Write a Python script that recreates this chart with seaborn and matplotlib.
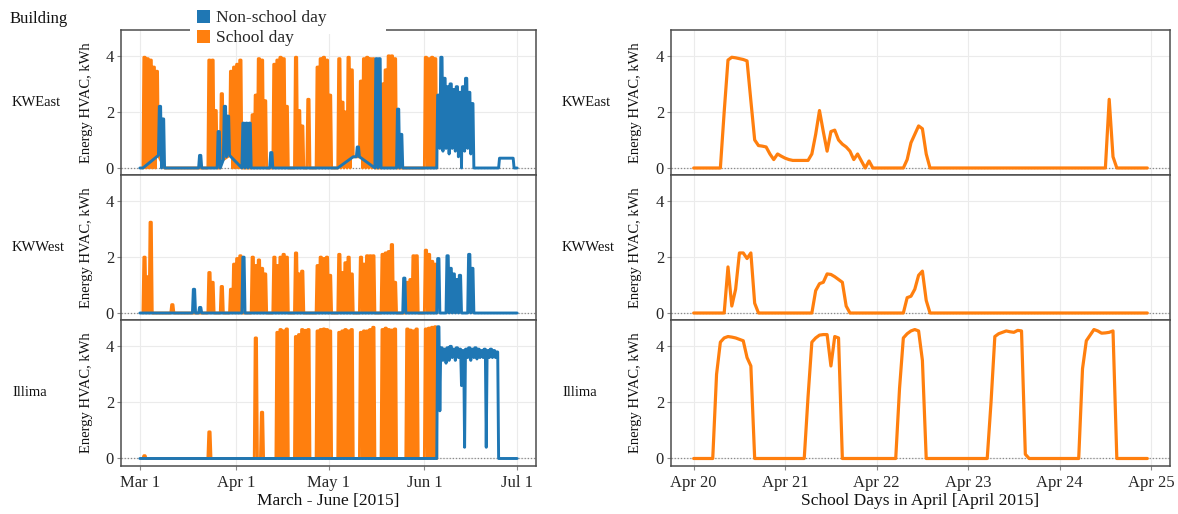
import pandas as pd
import matplotlib
matplotlib.use('Agg')
import matplotlib.pyplot as plt
import matplotlib.dates as mdates
from matplotlib.patches import Patch, Rectangle
from matplotlib.ticker import FuncFormatter
import seaborn as sns

BUILDINGS = ['KWEast', 'KWWest', 'Illima']
COLORS = {'Non-school day': '#1f77b4', 'School day': '#ff7f0e'}

# ---------------- left: March - June 2015, daily peak HVAC energy (kWh)
# one row per week, Sunday..Saturday
period_start = '2015-03-01'
kwe_peak = [
    0.0, 3.95, 3.9, 3.85, 3.6, 3.45, 2.2,       # Mar 1-7
    1.75, 0.0, 0.0, 0.0, 0.0, 0.0, 0.0,         # Mar 8-14
    0.0, 0.0, 0.0, 0.0, 0.0, 0.45, 0.0,         # Mar 15-21
    0.0, 3.85, 3.85, 2.05, 1.3, 2.65, 2.2,      # Mar 22-28
    1.85, 3.45, 3.6, 3.7, 3.85, 1.6, 1.6,       # Mar 29-Apr 4
    1.6, 1.9, 2.6, 3.9, 3.85, 2.4, 0.0,         # Apr 5-11
    0.55, 3.7, 3.85, 3.95, 3.9, 2.2, 0.0,       # Apr 12-18
    0.0, 3.95, 2.05, 1.5, 0.0, 2.45, 0.0,       # Apr 19-25
    0.0, 3.6, 3.9, 3.95, 3.85, 2.6, 0.0,        # Apr 26-May 2
    0.0, 3.9, 2.35, 2.0, 3.95, 3.5, 0.4,        # May 3-9
    0.75, 3.1, 3.9, 3.95, 3.9, 3.9, 3.9,        # May 10-16
    3.9, 3.0, 3.5, 4.0, 4.0, 3.9, 2.1,          # May 17-23
    1.2, 0.0, 0.0, 0.0, 0.0, 0.0, 0.0,          # May 24-30
    0.0, 3.95, 3.9, 3.95, 3.9, 2.6, 3.95,       # May 31-Jun 6
    3.2, 2.9, 3.0, 2.8, 2.9, 2.7, 2.9,          # Jun 7-13
    3.2, 2.7, 2.3, 0.0, 0.0, 0.0, 0.0,          # Jun 14-20
    0.0, 0.0, 0.0, 0.0, 0.35, 0.35, 0.35,       # Jun 21-27
    0.35, 0.35, 0.0,                            # Jun 28-30
]
kww_peak = [
    0.0, 2.0, 1.3, 3.25, 0.0, 0.0, 0.0,
    0.0, 0.0, 0.0, 0.3, 0.0, 0.0, 0.0,
    0.0, 0.0, 0.0, 0.85, 0.0, 0.2, 0.0,
    0.0, 1.45, 1.1, 0.0, 0.0, 0.95, 0.0,
    0.0, 0.85, 1.75, 1.95, 2.05, 2.0, 0.0,
    0.0, 2.0, 1.7, 1.9, 1.6, 1.4, 0.0,
    0.0, 2.0, 1.7, 2.0, 2.1, 2.0, 0.0,
    0.0, 2.15, 1.4, 1.5, 0.0, 0.0, 0.0,
    0.0, 1.7, 2.0, 1.95, 2.0, 1.35, 0.0,
    0.0, 2.1, 1.45, 1.8, 2.0, 1.4, 0.0,
    0.0, 2.0, 1.75, 2.05, 2.05, 2.05, 0.0,
    0.0, 2.1, 2.15, 2.2, 2.45, 1.1, 0.0,
    0.0, 1.25, 1.1, 1.2, 2.05, 2.05, 0.0,
    0.0, 2.25, 2.1, 1.85, 1.75, 1.95, 0.0,
    0.0, 2.05, 1.6, 1.4, 1.2, 1.35, 0.0,
    0.0, 2.1, 1.6, 0.0, 0.0, 0.0, 0.0,
    0.0, 0.0, 0.0, 0.0, 0.0, 0.0, 0.0,
    0.0, 0.0, 0.0,
]
ill_peak = [
    0.0, 0.1, 0.0, 0.0, 0.0, 0.0, 0.0,
    0.0, 0.0, 0.0, 0.0, 0.0, 0.0, 0.0,
    0.0, 0.0, 0.0, 0.0, 0.0, 0.0, 0.0,
    0.0, 0.95, 0.0, 0.0, 0.0, 0.0, 0.0,
    0.0, 0.0, 0.0, 0.0, 0.0, 0.0, 0.0,
    0.0, 0.0, 4.3, 0.0, 1.65, 0.0, 0.0,
    0.0, 0.0, 4.5, 4.6, 4.55, 4.62, 0.0,
    0.0, 4.35, 4.42, 4.6, 4.57, 4.6, 0.0,
    0.0, 4.55, 4.6, 4.62, 4.6, 4.55, 0.0,
    0.0, 4.5, 4.55, 4.6, 4.55, 4.6, 0.0,
    0.0, 4.5, 4.55, 4.55, 4.6, 4.68, 0.0,
    0.0, 4.6, 4.65, 4.6, 4.58, 4.62, 0.0,
    0.0, 0.0, 4.62, 4.58, 4.55, 4.62, 0.0,
    0.0, 4.62, 4.65, 4.68, 4.7, 4.7, 3.95,
    3.9, 3.95, 4.0, 3.9, 3.95, 3.9, 3.85,
    3.9, 3.95, 3.9, 3.95, 3.9, 3.85, 3.9,
    3.85, 3.9, 3.85, 3.8, 0.0, 0.0, 0.0,
    0.0, 0.0, 0.0,
]

# overnight level at the start of a day (kWh), 0 where not listed
kwe_night = {
    '2015-03-07': 0.45, '2015-03-28': 0.3, '2015-03-29': 0.4, '2015-03-30': 0.45,
    '2015-05-09': 0.4, '2015-05-10': 0.4, '2015-05-11': 0.4,
    '2015-06-06': 0.7, '2015-06-07': 0.6, '2015-06-08': 0.7, '2015-06-09': 0.5,
    '2015-06-10': 0.7, '2015-06-11': 0.6, '2015-06-12': 0.4, '2015-06-14': 0.6,
    '2015-06-15': 0.7, '2015-06-16': 0.5,
    '2015-06-26': 0.35, '2015-06-27': 0.35, '2015-06-28': 0.35, '2015-06-29': 0.35,
}
kww_night = {}
ill_night = {
    '2015-06-06': 1.7, '2015-06-07': 3.5, '2015-06-08': 3.4, '2015-06-09': 3.5,
    '2015-06-10': 3.6, '2015-06-11': 3.5, '2015-06-12': 3.6, '2015-06-13': 2.6,
    '2015-06-14': 0.4, '2015-06-15': 3.6, '2015-06-16': 3.5, '2015-06-17': 3.6,
    '2015-06-18': 3.55, '2015-06-19': 3.6, '2015-06-20': 3.6, '2015-06-21': 0.4,
    '2015-06-22': 3.6, '2015-06-23': 3.6, '2015-06-24': 3.6,
}

# weekdays without school
holidays = ['2015-03-16', '2015-03-17', '2015-03-18', '2015-03-19', '2015-03-20',
            '2015-03-26', '2015-04-03', '2015-05-25']
last_school_day = '2015-06-04'
ON_HOUR, OFF_HOUR = 7, 17

# ---------------- right: hourly HVAC energy, Apr 20-24 2015 (all school days)
week_start = '2015-04-20'
kwe_hourly = [
    0, 0, 0, 0, 0, 0, 0, 0, 2.0, 3.85, 3.95, 3.93, 3.9, 3.87, 3.82, 2.4, 1.0, 0.8, 0.78, 0.75, 0.5, 0.3, 0.5, 0.42,
    0.35, 0.3, 0.27, 0.27, 0.27, 0.27, 0.27, 0.5, 1.2, 2.05, 1.3, 0.6, 1.3, 1.35, 1.0, 0.85, 0.75, 0.6, 0.3, 0.5, 0.25, 0, 0.25, 0,
    0, 0, 0, 0, 0, 0, 0, 0, 0.3, 0.9, 1.2, 1.5, 1.4, 0.5, 0, 0, 0, 0, 0, 0, 0, 0, 0, 0,
    0, 0, 0, 0, 0, 0, 0, 0, 0, 0, 0, 0, 0, 0, 0, 0, 0, 0, 0, 0, 0, 0, 0, 0,
    0, 0, 0, 0, 0, 0, 0, 0, 0, 0, 0, 0, 0, 2.45, 0.4, 0, 0, 0, 0, 0, 0, 0, 0, 0,
]
kww_hourly = [
    0, 0, 0, 0, 0, 0, 0, 0, 0, 1.65, 0.25, 0.85, 2.15, 2.15, 1.95, 2.15, 0.35, 0, 0, 0, 0, 0, 0, 0,
    0, 0, 0, 0, 0, 0, 0, 0, 0.8, 1.05, 1.1, 1.4, 1.38, 1.3, 1.2, 1.1, 0.25, 0, 0, 0, 0, 0, 0, 0,
    0, 0, 0, 0, 0, 0, 0, 0, 0.55, 0.6, 0.85, 1.35, 1.5, 0.45, 0, 0, 0, 0, 0, 0, 0, 0, 0, 0,
    0, 0, 0, 0, 0, 0, 0, 0, 0, 0, 0, 0, 0, 0, 0, 0, 0, 0, 0, 0, 0, 0, 0, 0,
    0, 0, 0, 0, 0, 0, 0, 0, 0, 0, 0, 0, 0, 0, 0, 0, 0, 0, 0, 0, 0, 0, 0, 0,
]
ill_hourly = [
    0, 0, 0, 0, 0, 0, 3.0, 4.15, 4.3, 4.35, 4.33, 4.3, 4.25, 4.2, 3.6, 3.3, 0, 0, 0, 0, 0, 0, 0, 0,
    0, 0, 0, 0, 0, 0, 2.2, 4.15, 4.3, 4.4, 4.42, 4.42, 3.3, 4.35, 4.3, 0, 0, 0, 0, 0, 0, 0, 0, 0,
    0, 0, 0, 0, 0, 0, 2.5, 4.3, 4.45, 4.55, 4.6, 4.55, 3.5, 0, 0, 0, 0, 0, 0, 0, 0, 0, 0, 0,
    0, 0, 0, 0, 0, 0, 2.0, 4.35, 4.45, 4.5, 4.55, 4.52, 4.5, 4.57, 4.55, 0.15, 0, 0, 0, 0, 0, 0, 0, 0,
    0, 0, 0, 0, 0, 0, 3.2, 4.2, 4.4, 4.6, 4.55, 4.47, 4.48, 4.5, 4.55, 0, 0, 0, 0, 0, 0, 0, 0, 0,
]

peaks = {'KWEast': kwe_peak, 'KWWest': kww_peak, 'Illima': ill_peak}
nights = {'KWEast': kwe_night, 'KWWest': kww_night, 'Illima': ill_night}
hourly = {'KWEast': kwe_hourly, 'KWWest': kww_hourly, 'Illima': ill_hourly}


def daily_series(peak, night):
    """Day-by-day series: night level, school-hours peak, next night level"""
    days = pd.date_range(period_start, periods=len(peak), freq='D')
    last = pd.Timestamp(last_school_day)
    rows = []
    for day, p in zip(days, peak):
        key = day.strftime('%Y-%m-%d')
        nxt = (day + pd.Timedelta(days=1)).strftime('%Y-%m-%d')
        school = day.dayofweek < 5 and key not in holidays and day <= last
        kind = 'School day' if school else 'Non-school day'
        for hour, kwh in [(0, night.get(key, 0.0)), (ON_HOUR, p), (OFF_HOUR, p),
                          (23.75, night.get(nxt, 0.0))]:
            rows.append({'time': day + pd.Timedelta(hours=hour), 'kwh': kwh, 'type': kind})
    return pd.DataFrame(rows)


def hourly_series(values):
    times = pd.date_range(week_start, periods=len(values), freq='h')
    return pd.DataFrame({'time': times, 'kwh': values, 'type': 'School day'})


def date_label(v, pos):
    d = mdates.num2date(v)
    return f"{d:%b} {d.day}"


def padded(times):
    lo, hi = mdates.date2num(times.min()), mdates.date2num(times.max())
    pad = 0.05 * (hi - lo)
    return lo - pad, hi + pad


sns.set_theme(style='white')
plt.rcParams['font.family'] = ['Liberation Serif', 'DejaVu Serif']

W, H = 1178, 514
fig = plt.figure(figsize=(W / 100, H / 100), dpi=100)


def box(x0, x1, y0, y1):
    return [x0 / W, 1 - y1 / H, (x1 - x0) / W, (y1 - y0) / H]


rows_px = [(29.5, 175), (175, 320), (320, 465.5)]
cols_px = [(121, 536), (671, 1170)]
strip_x = [12, 562]
ylab_x = [-0.0675, -0.058]

for r, name in enumerate(BUILDINGS):
    for c in range(2):
        ax = fig.add_axes(box(cols_px[c][0], cols_px[c][1], *rows_px[r]))
        if c == 0:
            df = daily_series(peaks[name], nights[name])
            order = ['School day', 'Non-school day']
        else:
            df = hourly_series(hourly[name])
            order = ['School day']
        ax.axhline(0, color='#8a8a8a', ls=(0, (1, 1.5)), lw=0.9, zorder=1.5)
        sns.lineplot(data=df, x='time', y='kwh', hue='type', hue_order=order,
                     palette=COLORS, estimator=None, lw=2.1 if c == 0 else 2.3,
                     legend=False, ax=ax, zorder=2)
        ax.set_xlim(*padded(df['time']))
        ax.set_ylim(-0.25, 4.94)
        ax.set_yticks([0, 2, 4])
        if c == 0:
            ax.xaxis.set_major_locator(mdates.MonthLocator())
        else:
            ax.xaxis.set_major_locator(mdates.DayLocator())
        ax.xaxis.set_major_formatter(FuncFormatter(date_label))
        ax.grid(True, color='#ebebeb', lw=0.8)
        ax.set_axisbelow(True)
        for s in ax.spines.values():
            s.set_color('#4d4d4d')
            s.set_linewidth(1.1)
        ax.tick_params(axis='both', length=3, width=0.8, color='#888888',
                       labelsize=12, labelcolor='#262626', pad=2, left=True, bottom=True)
        ax.tick_params(axis='x', pad=4)
        ax.set_ylabel('Energy HVAC, kWh', fontsize=10.5, color='#111111')
        ax.yaxis.set_label_coords(ylab_x[c], 0.5)
        if r < 2:
            ax.set_xticklabels([])
            ax.set_xlabel('')
        else:
            ax.set_xlabel('March - June [2015]' if c == 0 else 'School Days in April [April 2015]',
                          fontsize=12.5, color='#111111', labelpad=1)
        fig.text(strip_x[c] / W, 1 - (rows_px[r][0] + rows_px[r][1]) / 2 / H, name,
                 ha='left', va='center', fontsize=10.5, color='#111111')

fig.text(10 / W, 1 - 19 / H, 'Building', ha='left', va='center', fontsize=12, color='#111111')

# legend sits on the top border of the first panel
fig.add_artist(Rectangle((190 / W, 1 - 34 / H), 196 / W, 34 / H, transform=fig.transFigure,
                         facecolor='white', edgecolor='none', zorder=4))
handles = [Patch(facecolor=COLORS['Non-school day'], edgecolor='none'),
           Patch(facecolor=COLORS['School day'], edgecolor='none')]
fig.legend(handles, ['Non-school day', 'School day'], loc='upper left',
           bbox_to_anchor=(197 / W, 1 - 10 / H), frameon=False, fontsize=12.5,
           handlelength=0.75, handleheight=0.75, handletextpad=0.35,
           labelspacing=0.2, borderpad=0, borderaxespad=0)

fig.savefig('out.png', dpi=100, facecolor='white')
